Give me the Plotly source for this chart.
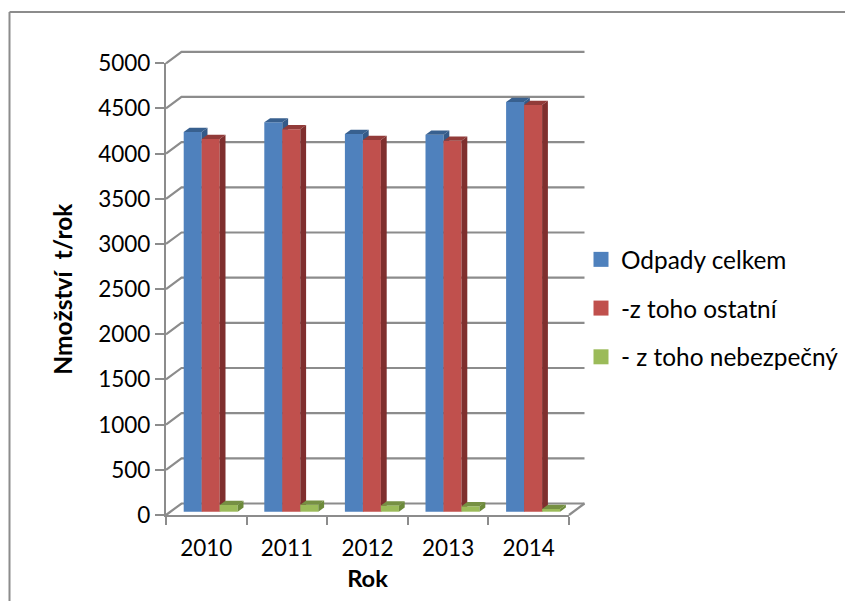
import plotly.graph_objects as go

years = ["2010", "2011", "2012", "2013", "2014"]
series_names = ["Odpady celkem", "-z toho ostatní", "- z toho nebezpečný"]
odpady_celkem = [4203, 4310, 4181, 4173, 4535]
z_toho_ostatni = [4125, 4233, 4114, 4107, 4502]
z_toho_nebezpecny = [74, 77, 70, 60, 30]
y_ticks = [0, 500, 1000, 1500, 2000, 2500, 3000, 3500, 4000, 4500, 5000]

front_colors = ["#4F81BD", "#C0504D", "#9BBB59"]
top_colors = ["#38608F", "#923B39", "#769043"]
side_colors = ["#345A88", "#7F2F2E", "#6C8A3A"]
GRID = "#8C8C8C"
FONT = "Lato"

W, H = 845, 601
X0, X1 = 166, 569
Y0, Y5000 = 515, 63.3
PX_X = (X1 - X0) / 5.0
PX_Y = (Y0 - Y5000) / 5000.0

DEPTH_WALL = (15.5 / PX_X, 11.5 / PX_Y)
DEPTH_BAR = (5.8 / PX_X, 4.2 / PX_Y)
BAR_W = 18.0 / PX_X
BAR_START = 17.7 / PX_X
BAR_BASE = 3.3 / PX_Y

fig = go.Figure()

xs, ys = [], []
for t in y_ticks:
    xs += [0, DEPTH_WALL[0], 5 + DEPTH_WALL[0], None]
    ys += [t, t + DEPTH_WALL[1], t + DEPTH_WALL[1], None]
xs += [5, 5 + DEPTH_WALL[0]]
ys += [0, DEPTH_WALL[1]]
fig.add_trace(go.Scatter(x=xs, y=ys, mode="lines", line=dict(color=GRID, width=2.2),
                         xaxis="x", yaxis="y", hoverinfo="skip", showlegend=False))

all_values = [odpady_celkem, z_toho_ostatni, z_toho_nebezpecny]
for s, vals in enumerate(all_values):
    xa, ya = f"x{s + 2}", f"y{s + 2}"
    fx = [i + BAR_START + s * BAR_W for i in range(len(vals))]
    fig.add_trace(go.Bar(x=fx, y=vals, base=BAR_BASE, width=BAR_W, offset=0,
                         marker=dict(color=front_colors[s], line=dict(width=0)),
                         xaxis=xa, yaxis=ya, showlegend=False, name=series_names[s]))
    for i, v in enumerate(vals):
        top = BAR_BASE + v
        l, r = fx[i], fx[i] + BAR_W
        dx, dy = DEPTH_BAR
        fig.add_trace(go.Scatter(x=[l, r, r + dx, l + dx, l], y=[top, top, top + dy, top + dy, top],
                                 fill="toself", fillcolor=top_colors[s], mode="none",
                                 xaxis=xa, yaxis=ya, showlegend=False, hoverinfo="skip"))
        fig.add_trace(go.Scatter(x=[r, r + dx, r + dx, r, r],
                                 y=[BAR_BASE, BAR_BASE + dy, top + dy, top, BAR_BASE],
                                 fill="toself", fillcolor=side_colors[s], mode="none",
                                 xaxis=xa, yaxis=ya, showlegend=False, hoverinfo="skip"))

for s, name in enumerate(series_names):
    fig.add_trace(go.Scatter(x=[None], y=[None], mode="markers", name=name,
                             marker=dict(symbol="square", size=15, color=front_colors[s]),
                             xaxis="x2", yaxis="y2", legendgroup=name))

axis_font = dict(family=FONT, size=22.5, color="black")
x_dom = [X0 / W, X1 / W]
y_dom = [(H - Y0) / H, (H - Y5000) / H]
fig.update_layout(
    template="none",
    width=W, height=H, autosize=False,
    margin=dict(l=0, r=0, t=0, b=0, pad=0),
    paper_bgcolor="white", plot_bgcolor="rgba(0,0,0,0)",
    showlegend=True,
    legend=dict(x=581 / W, y=1 - 237 / H, xanchor="left", yanchor="top",
                font=dict(family=FONT, size=24.4, color="black"),
                tracegroupgap=14, bgcolor="rgba(0,0,0,0)", itemclick=False, itemdoubleclick=False),
    xaxis=dict(domain=[0, 1], range=[-X0 / PX_X, (W - X0) / PX_X], visible=False, automargin=False),
    yaxis=dict(domain=[0, 1], range=[(Y0 - H) / PX_Y, Y0 / PX_Y], visible=False, automargin=False),
    xaxis2=dict(domain=x_dom, range=[0, 5], anchor="y2", automargin=False,
                showgrid=False, zeroline=False, showline=True, linecolor=GRID, linewidth=2.2,
                tickmode="array", tickvals=[i + 0.5 for i in range(5)], ticktext=years,
                ticks="", tickfont=axis_font, ticklabelstandoff=12,
                minor=dict(tickmode="array", tickvals=[0, 1, 2, 3, 4, 5], ticks="outside",
                           ticklen=8, tickwidth=2, tickcolor=GRID, showgrid=False),
                title=dict(text="<b>Rok</b>", font=dict(family=FONT, size=23.7, color="black"), standoff=10)),
    yaxis2=dict(domain=y_dom, range=[0, 5000], anchor="x2", automargin=False,
                showgrid=False, zeroline=False, showline=True, linecolor=GRID, linewidth=2.2,
                tickmode="array", tickvals=y_ticks, ticks="outside", ticklen=9, tickwidth=2,
                tickcolor=GRID, tickfont=axis_font,
                title=dict(text="<b>Nmožství  t/rok</b>", font=dict(family=FONT, size=24.5, color="black"), standoff=19)),
    xaxis3=dict(domain=x_dom, range=[0, 5], anchor="y3", visible=False, automargin=False),
    yaxis3=dict(domain=y_dom, range=[0, 5000], anchor="x3", visible=False, automargin=False),
    xaxis4=dict(domain=x_dom, range=[0, 5], anchor="y4", visible=False, automargin=False),
    yaxis4=dict(domain=y_dom, range=[0, 5000], anchor="x4", visible=False, automargin=False),
    shapes=[
        dict(type="line", xref="paper", yref="paper", x0=9.5 / W, x1=1,
             y0=1 - 12 / H, y1=1 - 12 / H, line=dict(color="#8C8C8C", width=2)),
        dict(type="line", xref="paper", yref="paper", x0=9.5 / W, x1=9.5 / W,
             y0=0, y1=1 - 12 / H, line=dict(color="#8C8C8C", width=2)),
    ],
)

fig.write_html("out.html", config={"displayModeBar": False},
               post_script="document.body.style.margin='0';")
